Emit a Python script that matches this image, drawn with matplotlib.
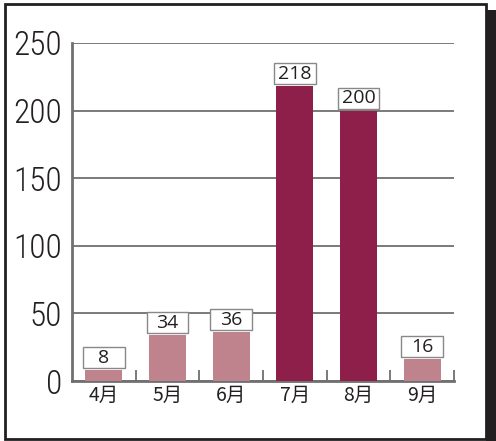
import matplotlib.pyplot as plt
from matplotlib.patches import Rectangle

months = ["4月", "5月", "6月", "7月", "8月", "9月"]
counts = [8, 34, 36, 218, 200, 16]
highlight = [False, False, False, True, True, False]
yticks = [0, 50, 100, 150, 200, 250]

light = "#be838d"
dark = "#8e1f4a"
grid_col = "#707070"

plt.rcParams["font.family"] = ["Noto Sans CJK JP", "DejaVu Sans"]

fig = plt.figure(figsize=(4.96, 4.41), dpi=100)

# outer frame with dark shadow on the right
fig.patches.append(Rectangle((486 / 496, 0), 10 / 496, 431 / 441,
                             transform=fig.transFigure, facecolor="#231f20",
                             edgecolor="none", zorder=0))
fig.patches.append(Rectangle((5 / 496, 2 / 441), 481 / 496, 435 / 441,
                             transform=fig.transFigure, facecolor="white",
                             edgecolor="#231f20", linewidth=2, zorder=1))

ax = fig.add_axes([72 / 496, 1 - 381 / 441, 382 / 496, 338 / 441])
ax.set_zorder(2)
ax.patch.set_alpha(0)

x = range(len(months))
colors = [dark if h else light for h in highlight]
ax.bar(x, counts, width=0.58, color=colors, zorder=3)

ax.set_xlim(-0.5, len(months) - 0.5)
ax.set_ylim(0, 250)
ax.set_yticks(yticks)
ax.set_yticklabels([str(v) for v in yticks],
                   family=["Roboto Condensed", "DejaVu Sans"],
                   fontstretch="condensed", fontweight="light",
                   fontsize=24, color="#231f20")
ax.yaxis.grid(True, color=grid_col, linewidth=1.3)
ax.set_axisbelow(True)
ax.tick_params(axis="y", length=0, pad=7)

# month labels and boundary ticks
ax.set_xticks(list(x))
ax.set_xticklabels(months, fontsize=14, color="#231f20")
ax.tick_params(axis="x", which="major", length=0, pad=3)
ax.set_xticks([i + 0.5 for i in x], minor=True)
ax.tick_params(axis="x", which="minor", direction="in", length=8,
               width=1.3, color=grid_col)

for s in ["top", "right"]:
    ax.spines[s].set_visible(False)
for s in ["left", "bottom"]:
    ax.spines[s].set_color(grid_col)
    ax.spines[s].set_linewidth(2)

# value boxes above each bar
box_w = 0.65
box_h = 15.5
for i, v in zip(x, counts):
    ax.add_patch(Rectangle((i - box_w / 2, v + 1.5), box_w, box_h,
                           facecolor="white", edgecolor="#888888",
                           linewidth=1, zorder=4))
    ax.text(i, v + 1.5 + box_h / 2, str(v), ha="center", va="center",
            fontsize=14, color="#231f20", family=["Open Sans", "DejaVu Sans"],
            zorder=5)

fig.savefig("out.png", dpi=100)
